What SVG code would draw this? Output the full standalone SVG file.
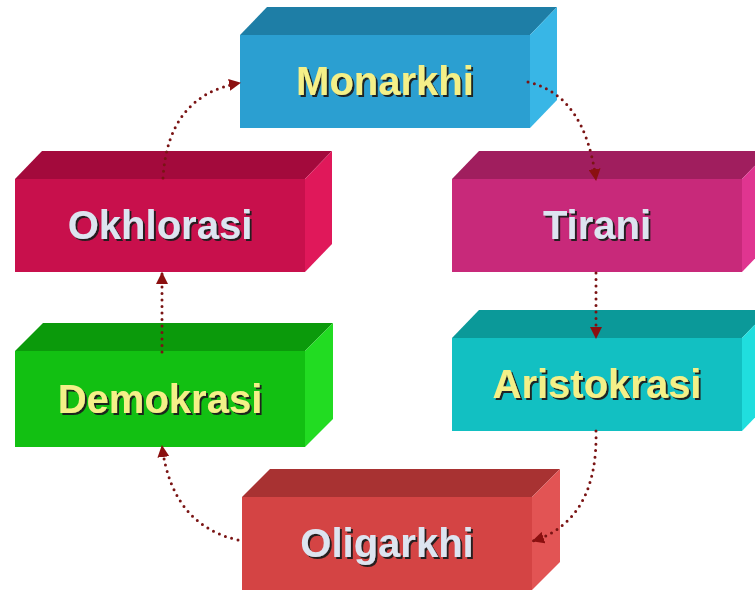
<svg xmlns="http://www.w3.org/2000/svg" width="755" height="591" viewBox="0 0 755 591">
<defs>
<style>
.lbl{font-family:"Liberation Sans",Arial,sans-serif;font-weight:bold;font-size:40px;text-anchor:middle;filter:url(#sh)}
.yel{fill:#f4f088}
.gry{fill:#dde4f0}
.dots{fill:none;stroke:#7a1414;stroke-width:3;stroke-linecap:round;stroke-dasharray:0 6.5}
</style>
<filter id="sh" x="-10%" y="-20%" width="120%" height="150%">
<feDropShadow dx="2" dy="2" stdDeviation="0.4" flood-color="#1a1a1a" flood-opacity="0.95"/>
</filter>
<marker id="ah" markerWidth="12" markerHeight="12" viewBox="0 0 12 12" refX="11" refY="6" orient="auto" markerUnits="userSpaceOnUse">
<path d="M0,0 L12,6 L0,12 Z" fill="#8b1010"/>
</marker>
</defs>
<rect width="755" height="591" fill="#ffffff"/>

<g id="monarkhi" transform="translate(240,7)">
<polygon points="0,28 27,0 317,0 290,28" fill="#1e7ea6"/>
<polygon points="290,28 317,0 317,93 290,121" fill="#38b6e6"/>
<rect x="0" y="28" width="290" height="93" fill="#2b9fd1"/>
<text class="lbl yel" x="145" y="88">Monarkhi</text>
</g>

<g id="okhlorasi" transform="translate(15,151)">
<polygon points="0,28 27,0 317,0 290,28" fill="#a30a3c"/>
<polygon points="290,28 317,0 317,93 290,121" fill="#e0185a"/>
<rect x="0" y="28" width="290" height="93" fill="#c8104c"/>
<text class="lbl gry" x="145" y="88">Okhlorasi</text>
</g>

<g id="tirani" transform="translate(452,151)">
<polygon points="0,28 27,0 317,0 290,28" fill="#a01e5e"/>
<polygon points="290,28 317,0 317,93 290,121" fill="#e03590"/>
<rect x="0" y="28" width="290" height="93" fill="#c8297a"/>
<text class="lbl gry" x="145" y="88">Tirani</text>
</g>

<g id="aristokrasi" transform="translate(452,310)">
<polygon points="0,28 27,0 317,0 290,28" fill="#0b9999"/>
<polygon points="290,28 317,0 317,93 290,121" fill="#20dede"/>
<rect x="0" y="28" width="290" height="93" fill="#12c0c2"/>
<text class="lbl yel" x="145" y="88">Aristokrasi</text>
</g>

<g id="demokrasi" transform="translate(15,323)">
<polygon points="0,28 28,0 318,0 290,28" fill="#0b9a0b"/>
<polygon points="290,28 318,0 318,96 290,124" fill="#22dc22"/>
<rect x="0" y="28" width="290" height="96" fill="#12c012"/>
<text class="lbl yel" x="145" y="90">Demokrasi</text>
</g>

<g id="oligarkhi" transform="translate(242,469)">
<polygon points="0,28 28,0 318,0 290,28" fill="#a83232"/>
<polygon points="290,28 318,0 318,93 290,121" fill="#e25454"/>
<rect x="0" y="28" width="290" height="93" fill="#d44444"/>
<text class="lbl gry" x="145" y="88">Oligarkhi</text>
</g>

<g id="connectors">
<path class="dots" d="M163,178 Q168,95 240,83" marker-end="url(#ah)"/>
<path class="dots" d="M528,82 Q585,95 596,180" marker-end="url(#ah)"/>
<path class="dots" d="M596,273 L596,338" marker-end="url(#ah)"/>
<path class="dots" d="M596,431 Q598,520 533,541" marker-end="url(#ah)"/>
<path class="dots" d="M238,540 Q172,525 162,446" marker-end="url(#ah)"/>
<path class="dots" d="M162,352 L162,273" marker-end="url(#ah)"/>
</g>
</svg>
